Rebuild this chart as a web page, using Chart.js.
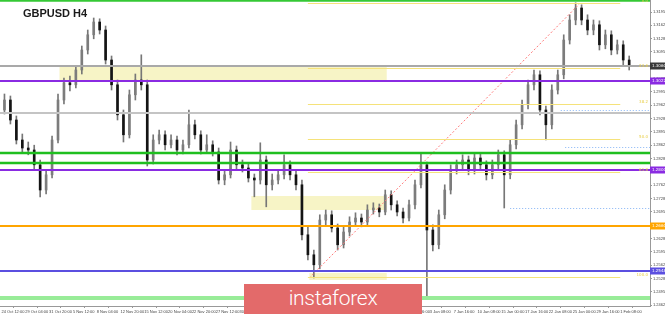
<!DOCTYPE html>
<html>
<head>
<meta charset="utf-8">
<script src="https://cdn.jsdelivr.net/npm/chart.js"></script>
<style>
  body { margin: 0; background: #fff; }
  #wrap { position: relative; width: 665px; height: 315px; }
  #logo {
    position: absolute; left: 244px; top: 284px; width: 178px; height: 30px;
    background: #e36a6a; color: #fff; font: 300 21px Roboto, sans-serif;
    text-align: center; line-height: 29px; letter-spacing: -0.3px;
  }
</style>
</head>
<body>
<div id="wrap">
  <canvas id="chart" width="665" height="315"></canvas>
  <div id="logo">instaforex</div>
</div>
<script>
// H4 candles, one every 4 bar slots
const opens = [1.2950, 1.2975, 1.2925, 1.2875, 1.2855, 1.2850, 1.2813, 1.2750, 1.2788, 1.2875,
  1.2975, 1.3018, 1.3013, 1.3050, 1.3100, 1.3138, 1.3170, 1.3150, 1.3075, 1.3013,
  1.2938, 1.2888, 1.2988, 1.3025, 1.3013, 1.2825, 1.2875, 1.2888, 1.2863, 1.2875,
  1.2850, 1.2863, 1.2913, 1.2888, 1.2850, 1.2863, 1.2845, 1.2775, 1.2788, 1.2850,
  1.2813, 1.2805, 1.2780, 1.2775, 1.2825, 1.2763, 1.2775, 1.2788, 1.2813, 1.2788,
  1.2763, 1.2638, 1.2588, 1.2563, 1.2675, 1.2688, 1.2655, 1.2613, 1.2645, 1.2670,
  1.2680, 1.2670, 1.2700, 1.2705, 1.2695, 1.2738, 1.2713, 1.2695, 1.2680, 1.2713,
  1.2763, 1.2813, 1.2650, 1.2613, 1.2688, 1.2750, 1.2800, 1.2813, 1.2825, 1.2800,
  1.2830, 1.2813, 1.2788, 1.2813, 1.2838, 1.2788, 1.2863, 1.2913, 1.2963, 1.3013,
  1.3038, 1.2950, 1.2913, 1.3000, 1.3038, 1.3125, 1.3175, 1.3205, 1.3175, 1.3150,
  1.3163, 1.3113, 1.3138, 1.3100, 1.3113, 1.3075];
const highs = [1.2990, 1.2985, 1.2935, 1.2890, 1.2870, 1.2862, 1.2825, 1.2800, 1.2885, 1.2990,
  1.3030, 1.3035, 1.3060, 1.3110, 1.3150, 1.3180, 1.3178, 1.3160, 1.3085, 1.3025,
  1.2950, 1.3000, 1.3040, 1.3088, 1.3025, 1.2888, 1.2900, 1.2898, 1.2888, 1.2885,
  1.2875, 1.2950, 1.2925, 1.2898, 1.2888, 1.2873, 1.2855, 1.2800, 1.2870, 1.2860,
  1.2825, 1.2815, 1.2790, 1.2868, 1.2835, 1.2790, 1.2800, 1.2838, 1.2823, 1.2800,
  1.2775, 1.2660, 1.2600, 1.2688, 1.2700, 1.2698, 1.2665, 1.2658, 1.2683, 1.2693,
  1.2690, 1.2713, 1.2718, 1.2715, 1.2750, 1.2748, 1.2723, 1.2705, 1.2725, 1.2775,
  1.2843, 1.2820, 1.2663, 1.2700, 1.2763, 1.2813, 1.2825, 1.2838, 1.2835, 1.2843,
  1.2840, 1.2823, 1.2825, 1.2850, 1.2848, 1.2875, 1.2925, 1.2975, 1.3025, 1.3050,
  1.3048, 1.2960, 1.3013, 1.3050, 1.3138, 1.3188, 1.3218, 1.3213, 1.3188, 1.3175,
  1.3173, 1.3150, 1.3148, 1.3125, 1.3123, 1.3085];
const lows = [1.2940, 1.2915, 1.2865, 1.2845, 1.2838, 1.2800, 1.2733, 1.2740, 1.2780, 1.2868,
  1.2965, 1.2998, 1.3005, 1.3040, 1.3090, 1.3128, 1.3140, 1.3065, 1.3000, 1.2925,
  1.2870, 1.2880, 1.2975, 1.3000, 1.2810, 1.2815, 1.2865, 1.2850, 1.2855, 1.2838,
  1.2840, 1.2855, 1.2878, 1.2840, 1.2843, 1.2835, 1.2765, 1.2763, 1.2780, 1.2800,
  1.2795, 1.2770, 1.2733, 1.2765, 1.2708, 1.2750, 1.2765, 1.2778, 1.2775, 1.2750,
  1.2625, 1.2575, 1.2530, 1.2553, 1.2663, 1.2645, 1.2600, 1.2605, 1.2635, 1.2660,
  1.2658, 1.2660, 1.2690, 1.2683, 1.2688, 1.2700, 1.2685, 1.2668, 1.2673, 1.2703,
  1.2755, 1.2483, 1.2598, 1.2603, 1.2678, 1.2740, 1.2790, 1.2803, 1.2788, 1.2790,
  1.2800, 1.2775, 1.2778, 1.2803, 1.2705, 1.2778, 1.2853, 1.2903, 1.2953, 1.3000,
  1.2938, 1.2875, 1.2903, 1.2990, 1.3028, 1.3115, 1.3163, 1.3163, 1.3138, 1.3138,
  1.3100, 1.3103, 1.3088, 1.3090, 1.3063, 1.3050];
const closes = [1.2975, 1.2925, 1.2875, 1.2855, 1.2850, 1.2813, 1.2750, 1.2788, 1.2875, 1.2975,
  1.3018, 1.3013, 1.3050, 1.3100, 1.3138, 1.3170, 1.3150, 1.3075, 1.3013, 1.2938,
  1.2888, 1.2988, 1.3025, 1.3013, 1.2825, 1.2875, 1.2888, 1.2863, 1.2875, 1.2850,
  1.2863, 1.2913, 1.2888, 1.2850, 1.2863, 1.2845, 1.2775, 1.2788, 1.2850, 1.2813,
  1.2805, 1.2780, 1.2775, 1.2825, 1.2763, 1.2775, 1.2788, 1.2813, 1.2788, 1.2763,
  1.2638, 1.2588, 1.2563, 1.2675, 1.2688, 1.2655, 1.2613, 1.2645, 1.2670, 1.2680,
  1.2670, 1.2700, 1.2705, 1.2695, 1.2738, 1.2713, 1.2695, 1.2680, 1.2713, 1.2763,
  1.2813, 1.2650, 1.2613, 1.2688, 1.2750, 1.2800, 1.2813, 1.2825, 1.2800, 1.2830,
  1.2813, 1.2788, 1.2813, 1.2838, 1.2788, 1.2863, 1.2913, 1.2963, 1.3013, 1.3038,
  1.2950, 1.2913, 1.3000, 1.3038, 1.3125, 1.3175, 1.3205, 1.3175, 1.3150, 1.3163,
  1.3113, 1.3138, 1.3100, 1.3113, 1.3075, 1.3060];

const dateLabels = ['24 Oct 12:00', '29 Oct 04:00', '31 Oct 20:00', '5 Nov 12:00', '8 Nov 04:00',
  '12 Nov 20:00', '15 Nov 12:00', '20 Nov 04:00', '22 Nov 20:00', '27 Nov 12:00', '30 Nov 04:00',
  '4 Dec 20:00', '7 Dec 12:00', '12 Dec 04:00', '14 Dec 20:00', '19 Dec 12:00', '24 Dec 04:00',
  '28 Dec 16:00', '3 Jan 08:00', '7 Jan 16:00', '10 Jan 08:00', '15 Jan 00:00', '17 Jan 16:00',
  '22 Jan 08:00', '25 Jan 00:00', '29 Jan 16:00', '1 Feb 08:00'];
const priceTicks = [1.3195, 1.3162, 1.3128, 1.3095, 1.3062, 1.3028, 1.2995, 1.2962, 1.2928, 1.2895,
  1.2862, 1.2828, 1.2795, 1.2762, 1.2728, 1.2695, 1.2662, 1.2628, 1.2595, 1.2562, 1.2528, 1.2495, 1.2462];

// horizontal levels across the whole chart
const levelPrices = [1.3224, 1.3060, 1.30225, 1.29425, 1.28425, 1.28175, 1.2800, 1.2660, 1.25475, 1.2480];
const levelColors = ['#35c835', '#a9a9a9', '#8a2be2', '#c4c4c4', '#1fbf1f', '#1fbf1f', '#8a2be2', '#ffa500', '#5b4fe0', '#98ec98'];
const levelWidths = [2.5, 2, 2, 2, 2.5, 2.5, 2, 2, 2, 4];
const levelTags = [false, true, true, false, false, false, true, true, true, false];
const tagColors = ['', '#3a3a3a', '#8a2be2', '', '', '', '#8a2be2', '#ffa500', '#5b4fe0', ''];

// fibonacci levels (drawn from bar 206 to 416)
const fibPrices = [1.32175, 1.3055, 1.2965, 1.28775, 1.2795, 1.25325];
const fibNames = ['0.0', '23.6', '38.2', '50.0', '61.8', '100.0'];
const fibFrom = 206, fibTo = 416;

// dotted blue lines: price and starting bar
const dotPrices = [1.2950, 1.28575, 1.2705];
const dotFrom = [376, 379, 342];

// yellow zones: [fromBar, toBar], [top, bottom]
const zoneFrom = [39, 168, 207];
const zoneTo = [259, 259, 259];
const zoneTop = [1.3060, 1.2735, 1.25425];
const zoneBottom = [1.30225, 1.2700, 1.2525];

// red dotted trend line
const trendX = [207, 389];
const trendY = [1.2530, 1.3217];

const slot = i => 4 * i + 2;
const wicks = lows.map((l, i) => ({ x: slot(i), y: [l, highs[i]] }));
const bodies = opens.map((o, i) => ({ x: slot(i), y: [Math.min(o, closes[i]), Math.max(o, closes[i])] }));
const bodyColors = opens.map((o, i) => closes[i] >= o ? '#7c7c7c' : '#141414');

const overlay = {
  id: 'overlay',
  beforeDatasetsDraw(chart) {
    const { ctx, chartArea: a, scales: { x, y } } = chart;
    ctx.save();
    ctx.beginPath(); ctx.rect(a.left, a.top, a.width, a.height); ctx.clip();
    ctx.fillStyle = '#f7f4c6';
    zoneFrom.forEach((f, i) => {
      const x0 = x.getPixelForValue(f), x1 = x.getPixelForValue(zoneTo[i]);
      const y0 = y.getPixelForValue(zoneTop[i]), y1 = y.getPixelForValue(zoneBottom[i]);
      ctx.fillRect(x0, y0, x1 - x0, y1 - y0);
    });
    ctx.restore();
  },
  afterDatasetsDraw(chart) {
    const { ctx, chartArea: a, scales: { x, y } } = chart;
    ctx.save();
    ctx.beginPath(); ctx.rect(a.left, a.top, a.width, a.height); ctx.clip();
    // fibo lines
    ctx.strokeStyle = '#f5e27a'; ctx.lineWidth = 1;
    fibPrices.forEach(p => {
      const py = Math.round(y.getPixelForValue(p)) + 0.5;
      ctx.beginPath(); ctx.moveTo(x.getPixelForValue(fibFrom), py); ctx.lineTo(x.getPixelForValue(fibTo), py); ctx.stroke();
    });
    // dotted lines
    ctx.strokeStyle = '#86b4f5'; ctx.setLineDash([1, 2]);
    dotPrices.forEach((p, i) => {
      const py = Math.round(y.getPixelForValue(p)) + 0.5;
      ctx.beginPath(); ctx.moveTo(x.getPixelForValue(dotFrom[i]), py); ctx.lineTo(a.right, py); ctx.stroke();
    });
    ctx.setLineDash([]);
    // levels
    levelPrices.forEach((p, i) => {
      const py = y.getPixelForValue(p);
      ctx.strokeStyle = levelColors[i]; ctx.lineWidth = levelWidths[i];
      ctx.beginPath(); ctx.moveTo(a.left, py); ctx.lineTo(a.right, py); ctx.stroke();
    });
    // fibo names
    ctx.fillStyle = '#e8cf4a'; ctx.font = '4px "DejaVu Sans"'; ctx.textAlign = 'right'; ctx.textBaseline = 'bottom';
    fibPrices.forEach((p, i) => ctx.fillText(fibNames[i], a.right - 2, y.getPixelForValue(p) - 0.5));
    ctx.restore();
  },
  afterDraw(chart) {
    const { ctx, chartArea: a, scales: { y } } = chart;
    ctx.save();
    ctx.font = 'bold 11px "Liberation Sans", Arial';
    ctx.fillStyle = '#1a1a1a'; ctx.textBaseline = 'alphabetic';
    ctx.fillText('GBPUSD H4', 23, 17);
    ctx.font = '4px "DejaVu Sans"'; ctx.textBaseline = 'middle';
    levelPrices.forEach((p, i) => {
      if (!levelTags[i]) return;
      const py = y.getPixelForValue(p);
      ctx.fillStyle = tagColors[i];
      ctx.fillRect(a.right, py - 3.5, 15, 7);
      ctx.fillStyle = '#fff';
      ctx.fillText(p.toFixed(4), a.right + 2, py);
    });
    ctx.restore();
  }
};

new Chart(document.getElementById('chart'), {
  type: 'bar',
  data: {
    datasets: [
      { type: 'line', data: trendX.map((v, i) => ({ x: v, y: trendY[i] })), borderColor: '#ff7a7a',
        borderWidth: 1, borderDash: [2, 2], pointRadius: 0, order: 0 },
      { data: wicks, backgroundColor: '#777', barThickness: 1, grouped: false, order: 2 },
      { data: bodies, backgroundColor: bodyColors, barThickness: 2, minBarLength: 1, grouped: false, order: 1 }
    ]
  },
  options: {
    responsive: false,
    animation: false,
    layout: { padding: 0 },
    plugins: { legend: { display: false }, tooltip: { enabled: false } },
    scales: {
      x: {
        type: 'linear', min: -1, max: 436, offset: false,
        grid: { drawOnChartArea: false, tickLength: 2, color: '#999' },
        border: { color: '#999' },
        ticks: { font: { size: 4 }, color: '#444', maxRotation: 0, autoSkip: false, align: 'start', padding: 1,
          callback: (v, i) => dateLabels[i] },
        afterBuildTicks: s => { s.ticks = dateLabels.map((_, i) => ({ value: i * 16 })); },
        afterFit: s => { s.height = 9; s.paddingLeft = 0; s.paddingRight = 0; }
      },
      y: {
        type: 'linear', position: 'right', min: 1.2460, max: 1.3225,
        grid: { drawOnChartArea: false, tickLength: 2, color: '#999' },
        border: { color: '#999' },
        ticks: { font: { size: 4 }, color: '#444', padding: 1, callback: v => v.toFixed(4) },
        afterBuildTicks: s => { s.ticks = priceTicks.map(v => ({ value: v })); },
        afterFit: s => { s.width = 15; s.paddingTop = 0; s.paddingBottom = 0; }
      }
    }
  },
  plugins: [overlay]
});
</script>
</body>
</html>
